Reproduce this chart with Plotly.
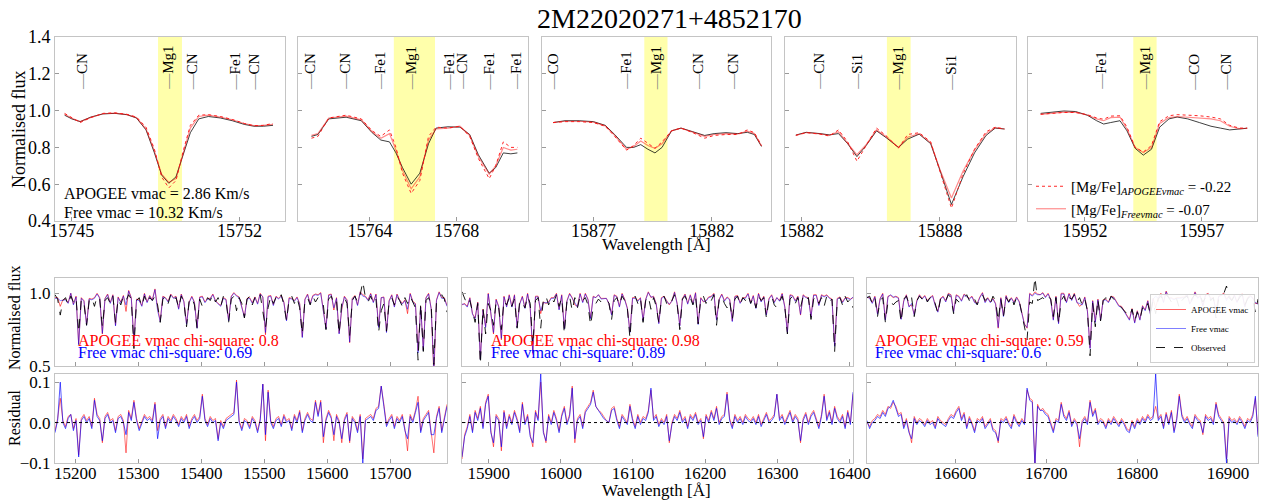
import numpy as np
import plotly.graph_objects as go

W, H = 1271, 504
FONT = "Liberation Serif"
FRAME = "#c4c4c4"
TICKC = "#9a9a9a"

# ---------------- data: top zoom panels ----------------
star_name = "2M22020271+4852170"
apogee_vmac = 2.86
free_vmac = 10.32
mgfe_apogee = -0.22
mgfe_free = -0.07

p1_wl = [15744.7, 15745.0, 15745.35, 15745.8, 15746.3, 15746.8, 15747.3, 15747.7, 15748.1, 15748.45, 15748.75,
         15749.05, 15749.35, 15749.65, 15749.95, 15750.3, 15750.7, 15751.2, 15751.7, 15752.2, 15752.6, 15753.0, 15753.4]
p1_obs = [0.975, 0.955, 0.94, 0.965, 0.982, 0.985, 0.978, 0.96, 0.895, 0.77, 0.65, 0.605, 0.64, 0.76, 0.88, 0.955,
          0.968, 0.96, 0.945, 0.925, 0.915, 0.915, 0.92]
p1_apogee = [0.985, 0.96, 0.935, 0.962, 0.985, 0.988, 0.98, 0.965, 0.91, 0.79, 0.64, 0.58, 0.62, 0.78, 0.92, 0.975,
             0.978, 0.968, 0.952, 0.93, 0.918, 0.92, 0.93]
p1_free = [0.98, 0.958, 0.94, 0.963, 0.983, 0.986, 0.978, 0.962, 0.9, 0.78, 0.655, 0.61, 0.63, 0.77, 0.905, 0.968,
           0.975, 0.965, 0.95, 0.93, 0.918, 0.92, 0.925]

p2_wl = [15761.3, 15761.6, 15762.1, 15762.9, 15763.6, 15764.1, 15764.5, 15764.9, 15765.2, 15765.5, 15765.9, 15766.3,
         15766.7, 15767.05, 15767.6, 15768.15, 15768.6, 15769.0, 15769.5, 15769.8, 15770.15, 15770.5, 15770.8]
p2_obs = [0.86, 0.87, 0.955, 0.964, 0.945, 0.88, 0.84, 0.83, 0.77, 0.69, 0.60, 0.66, 0.82, 0.905, 0.912, 0.91, 0.87,
          0.76, 0.66, 0.69, 0.77, 0.765, 0.77]
p2_apogee = [0.85, 0.86, 0.96, 0.975, 0.955, 0.89, 0.86, 0.895, 0.80, 0.66, 0.55, 0.62, 0.86, 0.91, 0.905, 0.915,
             0.86, 0.74, 0.63, 0.70, 0.83, 0.80, 0.80]
p2_free = [0.865, 0.875, 0.96, 0.97, 0.95, 0.885, 0.85, 0.875, 0.785, 0.675, 0.575, 0.64, 0.84, 0.90, 0.905, 0.915,
           0.865, 0.75, 0.655, 0.70, 0.80, 0.785, 0.79]

p3_wl = [15875.3, 15875.8, 15876.4, 15877.0, 15877.5, 15877.9, 15878.4, 15878.7, 15879.0, 15879.3, 15879.6, 15879.9,
         15880.3, 15880.7, 15881.2, 15881.7, 15882.1, 15882.6, 15883.1, 15883.5, 15883.8, 15884.1]
p3_obs = [0.935, 0.945, 0.945, 0.94, 0.92, 0.87, 0.80, 0.80, 0.815, 0.79, 0.77, 0.80, 0.89, 0.905, 0.885, 0.865,
          0.875, 0.88, 0.875, 0.882, 0.87, 0.805]
p3_apogee = [0.935, 0.94, 0.94, 0.935, 0.915, 0.86, 0.785, 0.81, 0.85, 0.82, 0.795, 0.83, 0.89, 0.905, 0.88, 0.85,
             0.865, 0.87, 0.87, 0.895, 0.88, 0.81]
p3_free = [0.935, 0.942, 0.942, 0.937, 0.917, 0.865, 0.79, 0.805, 0.835, 0.81, 0.795, 0.82, 0.89, 0.905, 0.883, 0.86,
           0.87, 0.875, 0.873, 0.888, 0.875, 0.808]

p4_wl = [15881.75, 15882.2, 15882.8, 15883.2, 15883.6, 15884.0, 15884.4, 15884.8, 15885.25, 15885.7, 15886.2,
         15886.6, 15887.1, 15887.6, 15888.0, 15888.5, 15889.0, 15889.5, 15890.0, 15890.4, 15890.8]
p4_obs = [0.867, 0.882, 0.875, 0.868, 0.875, 0.82, 0.75, 0.81, 0.89, 0.85, 0.80, 0.845, 0.872, 0.82, 0.676, 0.49,
          0.64, 0.77, 0.865, 0.905, 0.90]
p4_apogee = [0.865, 0.88, 0.872, 0.862, 0.895, 0.83, 0.725, 0.81, 0.905, 0.86, 0.795, 0.87, 0.88, 0.83, 0.67, 0.47,
             0.655, 0.79, 0.885, 0.91, 0.90]
p4_free = [0.866, 0.881, 0.874, 0.866, 0.885, 0.825, 0.76, 0.815, 0.895, 0.855, 0.80, 0.855, 0.875, 0.825, 0.68,
           0.525, 0.67, 0.785, 0.875, 0.907, 0.90]

p5_wl = [15950.1, 15950.6, 15951.1, 15951.6, 15952.1, 15952.5, 15952.8, 15953.1, 15953.5, 15953.8, 15954.15,
         15954.5, 15954.85, 15955.2, 15955.6, 15955.95, 15956.4, 15956.9, 15957.4, 15957.8, 15958.2, 15958.6, 15958.95]
p5_obs = [0.985, 0.993, 0.998, 0.995, 0.975, 0.945, 0.927, 0.935, 0.945, 0.89, 0.795, 0.758, 0.79, 0.91, 0.955,
          0.965, 0.955, 0.935, 0.915, 0.905, 0.895, 0.90, 0.904]
p5_apogee = [0.98, 0.985, 0.99, 0.99, 0.978, 0.96, 0.953, 0.97, 0.972, 0.91, 0.80, 0.775, 0.81, 0.94, 0.972, 0.978,
             0.977, 0.972, 0.965, 0.955, 0.92, 0.905, 0.905]
p5_free = [0.98, 0.987, 0.992, 0.99, 0.976, 0.955, 0.945, 0.962, 0.965, 0.9, 0.80, 0.772, 0.80, 0.93, 0.962, 0.968,
           0.965, 0.962, 0.955, 0.945, 0.915, 0.902, 0.904]

top_ranges = [[15744.3, 15753.9], [15760.68, 15771.29], [15874.83, 15884.5], [15881.28, 15891.3], [15949.56, 15959.37]]
top_xticks = [[15745, 15752], [15764, 15768], [15877, 15882], [15882, 15888], [15952, 15957]]
top_yticks = [0.4, 0.6, 0.8, 1.0, 1.2, 1.4]
mg_band_lo = [15748.6, 15765.1, 15879.15, 15885.7, 15954.07]
mg_band_hi = [15749.6, 15767.0, 15880.13, 15886.73, 15955.07]

p1_lines = ["CN", "Mg1", "CN", "Fe1", "CN"]
p1_line_wl = [15745.4, 15749.04, 15750.0, 15751.8, 15752.6]
p2_lines = ["CN", "CN", "Fe1", "Mg1", "Fe1", "CN", "Fe1", "Fe1"]
p2_line_wl = [15761.2, 15762.85, 15764.43, 15765.9, 15767.64, 15768.25, 15769.48, 15770.7]
p3_lines = ["CO", "Fe1", "Mg1", "CN", "CN"]
p3_line_wl = [15875.28, 15878.38, 15879.65, 15881.39, 15882.87]
p4_lines = ["CN", "Si1", "Mg1", "Si1"]
p4_line_wl = [15882.76, 15884.43, 15886.19, 15888.5]
p5_lines = ["Fe1", "Mg1", "CO", "CN"]
p5_line_wl = [15952.69, 15954.57, 15956.67, 15958.03]
label_flux = 1.1

# ---------------- data: full spectra (3 chips) ----------------
chip_ranges = [[15168, 15790], [15863, 16405], [16503, 16933]]
chip_xticks = [[15200, 15300, 15400, 15500, 15600, 15700],
               [15900, 16000, 16100, 16200, 16300, 16400],
               [16600, 16700, 16800, 16900]]
chi_apogee = [0.8, 0.98, 0.59]
chi_free = [0.69, 0.89, 0.6]

c1_obs = [0.99, 0.96, 0.85, 0.95, 0.97, 0.92, 0.98, 0.94, 0.97, 0.73,
          0.96, 0.93, 0.78, 0.95, 0.97, 0.91, 0.98, 0.96, 0.77, 0.95,
          0.97, 0.93, 0.98, 0.80, 0.96, 0.92, 0.98, 0.95, 0.99, 0.96,
          0.62, 0.95, 0.97, 0.91, 0.98, 0.93, 0.97, 0.95, 0.98, 0.92,
          0.80, 0.96, 0.98, 0.93, 0.99, 0.95, 0.97, 0.90, 0.98, 0.94,
          0.77, 0.95, 0.97, 0.92, 0.76, 0.96, 0.91, 0.93, 0.97, 0.95,
          0.99, 0.94, 0.97, 0.91, 0.98, 0.95, 0.80, 0.96, 0.98, 0.88,
          0.97, 0.93, 0.83, 0.96, 0.98, 0.92, 0.97, 0.95, 0.99, 0.88,
          0.76, 0.90, 0.98, 0.93, 0.97, 0.95, 0.99, 0.92, 0.81, 0.96,
          0.98, 0.93, 0.97, 0.90, 0.72, 0.95, 0.97, 0.92, 0.98, 0.94,
          0.97, 0.95, 0.92, 0.75, 0.96, 0.98, 0.93, 0.95, 0.72, 0.94,
          0.97, 0.93, 0.71, 0.95, 0.98, 0.94, 0.99, 1.08, 0.97, 0.94,
          0.98, 0.93, 0.96, 0.73, 0.88, 0.93, 0.74, 0.94, 0.97, 0.92,
          0.98, 0.95, 0.91, 0.97, 0.93, 0.98, 0.94, 0.90, 0.54, 0.93,
          0.60, 0.95, 0.97, 0.92, 0.51, 0.94, 0.97, 0.99, 0.96, 0.87]
c1_res_apogee = [-0.02, 0.01, 0.06, 0.005, -0.01, 0.015, 0.02, -0.015, 0.01, -0.08,
                 0.01, 0.02, 0.005, 0.015, -0.01, 0.06, 0.02, 0.01, -0.05, 0.015,
                 0.025, 0.005, 0.01, -0.02, 0.015, 0.02, 0.005, -0.075, 0.03, 0.01,
                 0.055, 0.01, -0.015, 0.005, 0.02, 0.01, 0.015, 0.005, 0.05, -0.02,
                 0.01, 0.02, -0.01, 0.015, 0.005, 0.02, 0.01, -0.005, 0.015, 0.005,
                 0.02, -0.01, 0.01, 0.02, 0.005, 0.015, 0.07, 0.01, -0.005, 0.015,
                 0.005, 0.01, -0.04, 0.005, -0.01, 0.01, 0.015, 0.02, 0.025, 0.105,
                 0.005, -0.015, 0.01, 0.005, -0.01, 0.015, 0.005, -0.02, 0.01, 0.095,
                 -0.045, 0.08, 0.005, -0.01, 0.01, 0.015, -0.005, 0.02, 0.005, 0.01,
                 -0.015, 0.02, 0.005, 0.03, -0.02, 0.01, 0.025, 0.01, 0.005, 0.055,
                 0.02, 0.055, -0.05, 0.01, 0.03, 0.015, -0.045, 0.02, 0.005, -0.05,
                 0.01, 0.025, -0.05, 0.015, 0.005, -0.02, 0.02, -0.09, 0.01, 0.015,
                 0.02, 0.01, 0.035, 0.04, 0.09, 0.045, -0.005, 0.01, 0.02, -0.01,
                 0.015, 0.005, 0.02, -0.015, -0.07, 0.02, 0.005, 0.03, 0.065, -0.02,
                 0.01, 0.02, 0.03, -0.025, -0.075, 0.015, 0.04, -0.02, 0.01, 0.045]
c1_res_free = [-0.025, 0.005, 0.10, 0.0, -0.015, 0.01, 0.02, -0.02, 0.005, -0.085,
               0.005, 0.015, 0.0, 0.01, -0.015, 0.055, 0.015, 0.005, -0.045, 0.01,
               0.02, 0.0, 0.005, -0.025, 0.01, 0.015, 0.0, -0.03, 0.025, 0.005,
               0.05, 0.005, -0.02, 0.0, 0.015, 0.005, 0.01, 0.0, 0.045, -0.04,
               0.005, 0.015, -0.015, 0.01, 0.0, 0.015, 0.005, -0.01, 0.01, 0.0,
               0.015, -0.015, 0.005, 0.015, 0.0, 0.01, 0.065, 0.005, -0.01, 0.01,
               0.0, 0.005, -0.045, 0.0, -0.015, 0.005, 0.01, 0.015, 0.02, 0.1,
               0.0, -0.02, 0.005, 0.0, -0.015, 0.01, 0.0, -0.025, 0.005, 0.095,
               -0.03, 0.075, 0.0, -0.015, 0.005, 0.01, -0.01, 0.015, 0.0, 0.005,
               -0.02, 0.015, 0.0, 0.025, -0.025, 0.005, 0.02, 0.005, 0.0, 0.05,
               0.015, 0.05, -0.035, 0.005, 0.025, 0.01, -0.03, 0.015, 0.0, -0.04,
               0.005, 0.02, -0.045, 0.01, 0.0, -0.025, 0.015, -0.1, 0.005, 0.01,
               0.015, 0.005, 0.03, 0.035, 0.09, 0.04, -0.01, 0.005, 0.015, -0.015,
               0.01, 0.0, 0.015, -0.02, -0.04, 0.015, 0.0, 0.025, 0.05, -0.025,
               0.005, 0.015, 0.025, -0.03, -0.03, 0.01, 0.035, -0.025, 0.005, 0.04]

c2_obs = [1.01, 0.96, 0.92, 0.95, 0.88, 0.80, 0.93, 0.51, 0.90, 0.72,
          0.93, 0.88, 0.78, 0.94, 0.90, 0.75, 0.95, 0.92, 0.97, 0.91,
          0.96, 0.76, 0.95, 0.93, 0.90, 0.98, 0.93, 0.64, 0.95, 0.97,
          0.76, 0.96, 0.98, 0.92, 0.97, 0.94, 0.99, 0.91, 0.97, 0.72,
          0.95, 0.98, 0.88, 0.97, 0.90, 0.98, 0.95, 0.97, 0.92, 0.78,
          0.90, 0.93, 0.96, 0.94, 0.95, 0.96, 0.93, 0.82, 0.95, 0.97,
          0.92, 0.98, 0.95, 0.90, 0.69, 0.96, 0.98, 0.93, 0.97, 0.80,
          0.95, 0.98, 0.89, 0.97, 0.91, 0.80, 0.96, 0.98, 0.93, 0.97,
          0.95, 0.99, 0.92, 0.75, 0.96, 0.98, 0.94, 0.97, 0.92, 0.98,
          0.79, 0.96, 0.98, 0.93, 0.97, 0.95, 0.99, 0.78, 0.96, 0.98,
          0.93, 0.90, 0.95, 0.82, 0.96, 0.98, 0.92, 0.97, 0.95, 0.99,
          0.93, 0.97, 0.90, 0.98, 0.95, 0.97, 0.83, 0.96, 0.98, 0.92,
          0.90, 0.94, 0.98, 0.91, 0.72, 0.96, 0.98, 0.93, 0.97, 0.90,
          0.98, 0.95, 0.97, 0.82, 0.96, 0.98, 0.93, 0.97, 0.91, 0.98,
          0.94, 0.96, 0.60, 0.95, 0.97, 0.92, 0.98, 0.94, 0.96, 0.90]
c2_res_apogee = [-0.09, -0.03, -0.01, 0.02, -0.02, 0.03, 0.01, 0.04, -0.01, 0.05,
                 0.07, -0.02, -0.06, 0.02, 0.01, -0.07, 0.03, -0.01, 0.02, 0.0,
                 0.03, 0.01, -0.02, 0.05, 0.0, 0.02, -0.03, -0.06, 0.03, 0.01,
                 0.10, -0.02, -0.05, 0.02, 0.0, 0.03, 0.01, -0.02, 0.02, 0.04,
                 0.0, 0.02, 0.09, -0.05, 0.01, 0.02, -0.01, 0.03, 0.04, 0.05,
                 0.08, 0.04, 0.03, 0.025, 0.015, 0.005, 0.0, 0.035, 0.04, 0.01,
                 -0.01, 0.02, 0.01, 0.0, 0.045, 0.01, -0.01, 0.02, 0.0, 0.015,
                 0.01, 0.03, 0.08, 0.01, 0.02, -0.005, 0.01, 0.0, 0.02, -0.05,
                 0.0, 0.02, 0.01, 0.03, 0.005, 0.015, -0.01, 0.02, 0.01, 0.025,
                 0.0, 0.01, -0.04, 0.02, 0.005, 0.03, 0.01, 0.04, 0.0, 0.015,
                 0.02, 0.075, 0.01, -0.01, 0.02, 0.005, 0.015, 0.0, 0.02, 0.01,
                 0.005, 0.015, 0.0, 0.02, -0.005, 0.01, 0.025, 0.005, 0.01, 0.02,
                 0.07, 0.01, 0.02, 0.0, 0.015, 0.03, 0.005, 0.02, 0.01, -0.05,
                 0.01, 0.025, 0.0, 0.02, 0.03, 0.01, -0.01, 0.02, 0.07, 0.01,
                 0.03, 0.0, 0.04, 0.015, 0.005, 0.02, -0.01, 0.03, 0.0, 0.07]
c2_res_free = [-0.085, -0.035, -0.015, 0.015, -0.025, 0.025, 0.005, 0.035, -0.015, 0.045,
               0.065, -0.025, -0.05, 0.015, 0.005, -0.06, 0.025, -0.015, 0.015, -0.005,
               0.025, 0.005, -0.025, 0.045, -0.005, 0.015, -0.035, -0.05, 0.025, 0.005,
               0.12, -0.025, -0.045, 0.015, -0.005, 0.025, 0.005, -0.025, 0.015, 0.035,
               -0.005, 0.015, 0.085, -0.04, 0.005, 0.015, -0.015, 0.025, 0.035, 0.045,
               0.075, 0.04, 0.03, 0.02, 0.01, 0.005, 0.0, 0.03, 0.035, 0.005,
               -0.015, 0.015, 0.005, -0.005, 0.04, 0.005, -0.015, 0.015, -0.005, 0.01,
               0.005, 0.025, 0.085, 0.005, 0.015, -0.01, 0.005, -0.005, 0.015, -0.045,
               -0.005, 0.015, 0.005, 0.025, 0.0, 0.01, -0.015, 0.015, 0.005, 0.02,
               -0.005, 0.005, -0.035, 0.015, 0.0, 0.025, 0.005, 0.035, -0.005, 0.01,
               0.015, 0.07, 0.005, -0.015, 0.015, 0.0, 0.01, -0.005, 0.015, 0.005,
               0.0, 0.01, -0.005, 0.015, -0.01, 0.005, 0.02, 0.0, 0.005, 0.015,
               0.07, 0.005, 0.015, -0.005, 0.01, 0.025, 0.0, 0.015, 0.005, -0.045,
               0.005, 0.02, -0.005, 0.015, 0.025, 0.005, -0.015, 0.015, 0.065, 0.005,
               0.025, -0.005, 0.035, 0.01, 0.0, 0.015, -0.015, 0.025, -0.005, 0.075]

c3_obs = [0.97, 0.98, 0.93, 0.97, 0.84, 0.95, 0.97, 0.80, 0.94, 0.95,
          0.92, 0.94, 0.95, 0.80, 0.96, 0.98, 0.93, 0.97, 0.84, 0.95,
          0.98, 0.96, 0.99, 0.94, 0.97, 0.98, 0.93, 0.86, 0.96, 0.98,
          0.95, 0.99, 0.97, 0.86, 0.96, 0.94, 0.94, 0.97, 0.99, 0.95,
          0.98, 0.96, 0.92, 0.97, 0.99, 0.95, 0.97, 0.93, 0.98, 0.95,
          0.81, 0.96, 0.84, 0.97, 0.94, 0.98, 0.92, 0.97, 0.95, 0.86,
          0.79, 0.68, 0.94, 0.93, 1.11, 0.95, 0.96, 0.97, 0.95, 0.98,
          0.96, 0.84, 0.97, 0.79, 0.95, 0.98, 0.93, 0.97, 0.96, 0.99,
          0.94, 0.97, 0.92, 0.96, 0.88, 0.57, 0.93, 0.77, 0.96, 0.81,
          0.95, 0.97, 0.93, 0.98, 0.96, 0.94, 0.92, 0.90, 0.88, 0.86,
          0.84, 0.89, 0.81, 0.87, 0.82, 0.90, 0.88, 0.93, 0.85, 0.95,
          0.86, 0.96, 0.98, 0.95, 0.99, 0.97, 0.94, 0.98, 0.96, 0.90,
          0.95, 0.97, 0.98, 0.93, 0.97, 0.99, 0.96, 0.98, 0.94, 0.97,
          0.99, 0.95, 0.97, 0.83, 0.96, 0.98, 1.00, 1.05, 0.97, 0.95,
          0.98, 0.94, 0.97, 0.99, 0.92, 0.96, 0.98, 0.95, 0.87, 0.96]
c3_res_apogee = [0.0, -0.01, 0.005, 0.01, 0.02, 0.015, 0.03, 0.02, 0.04, 0.035,
                 0.05, 0.04, 0.02, 0.025, -0.01, 0.01, -0.02, -0.05, 0.015, 0.0,
                 0.01, 0.005, -0.005, 0.01, 0.0, 0.005, -0.01, 0.015, 0.005, 0.0,
                 -0.005, 0.01, 0.02, 0.015, 0.03, 0.04, 0.01, 0.025, -0.01, 0.015,
                 0.0, -0.02, 0.01, 0.005, 0.015, -0.01, 0.0, 0.01, -0.015, -0.02,
                 -0.05, 0.01, 0.005, 0.015, 0.0, -0.01, 0.02, 0.005, -0.005, 0.01,
                 0.0, 0.08, 0.06, 0.055, -0.1, 0.045, 0.03, 0.035, 0.025, 0.02,
                 0.0, -0.02, 0.01, 0.005, 0.05, 0.02, 0.01, 0.03, -0.005, 0.01,
                 0.0, -0.06, 0.005, 0.015, 0.0, 0.055, 0.02, 0.035, 0.0, 0.01,
                 0.005, -0.01, 0.01, 0.0, 0.015, 0.005, -0.005, 0.01, 0.0, -0.015,
                 -0.02, 0.005, -0.01, 0.01, 0.0, 0.015, 0.005, 0.02, 0.01, 0.015,
                 0.04, 0.01, 0.02, -0.01, 0.025, 0.0, 0.03, -0.02, 0.01, 0.07,
                 0.02, 0.005, 0.015, 0.0, -0.01, 0.02, 0.01, 0.005, -0.03, 0.02,
                 0.01, 0.015, 0.0, 0.05, 0.02, 0.01, 0.0, -0.09, 0.015, 0.005,
                 0.01, 0.0, 0.015, 0.005, -0.01, 0.01, 0.005, 0.02, 0.06, -0.03]
c3_res_free = [0.005, -0.015, 0.0, 0.005, 0.015, 0.01, 0.025, 0.015, 0.035, 0.04,
               0.055, 0.035, 0.015, 0.02, -0.015, 0.005, -0.025, -0.04, 0.01, -0.005,
               0.005, 0.0, -0.01, 0.005, -0.005, 0.0, -0.015, 0.01, 0.0, -0.005,
               -0.01, 0.005, 0.015, 0.01, 0.025, 0.035, 0.005, 0.02, -0.015, 0.01,
               -0.005, -0.025, 0.005, 0.0, 0.01, -0.015, -0.005, 0.005, -0.02, -0.025,
               -0.045, 0.005, 0.0, 0.01, -0.005, -0.015, 0.015, 0.0, -0.01, 0.005,
               -0.005, 0.085, 0.055, 0.05, -0.11, 0.04, 0.03, 0.03, 0.02, 0.015,
               -0.005, -0.025, 0.005, 0.0, 0.045, 0.015, 0.005, 0.025, -0.01, 0.005,
               -0.005, -0.04, 0.0, 0.01, -0.005, 0.05, 0.015, 0.03, -0.005, 0.005,
               0.0, -0.015, 0.005, -0.005, 0.01, 0.0, -0.01, 0.005, -0.005, -0.02,
               -0.025, 0.0, -0.015, 0.005, -0.005, 0.01, 0.0, 0.015, 0.005, 0.01,
               0.12, 0.005, 0.015, -0.015, 0.02, -0.005, 0.025, -0.025, 0.005, 0.065,
               0.015, 0.0, 0.01, -0.005, -0.015, 0.015, 0.005, 0.0, -0.025, 0.015,
               0.005, 0.01, -0.005, 0.045, 0.015, 0.005, -0.005, -0.1, 0.01, 0.0,
               0.005, -0.005, 0.01, 0.0, -0.015, 0.005, 0.0, 0.015, 0.065, -0.035]

# ---------------- layout geometry (pixels) ----------------
top_x_px = [(55, 285), (298, 528), (542, 771), (785, 1016), (1028, 1257)]
top_y_px = (37, 221)
chip_x_px = [(55, 447), (462, 853), (867, 1258)]
spec_y_px = (278, 366)
res_y_px = (374, 463)


def fx(p):
    return p / W


def fy(p):
    return 1 - p / H


def sfx(k):
    return "" if k == 1 else str(k)


fig = go.Figure()
layout = {}
shapes = []
annotations = []


def base_axis(tick_size):
    return dict(showline=True, mirror=True, linecolor=FRAME, linewidth=1, ticks="inside", ticklen=4,
                tickcolor=TICKC, tickwidth=1, showgrid=False, zeroline=False, automargin=False,
                tickfont=dict(family=FONT, size=tick_size, color="black"))


def make_axes(k, xpx, ypx, xr, yr, xt, yt, ytt, show_xl, show_yl, tsize, xstand):
    s = sfx(k)
    xa = base_axis(tsize)
    xa.update(domain=[fx(xpx[0]), fx(xpx[1])], range=xr, anchor="y" + s, tickvals=xt,
              ticktext=[str(v) for v in xt], showticklabels=show_xl, ticklabelstandoff=xstand)
    ya = base_axis(tsize)
    ya.update(domain=[fy(ypx[1]), fy(ypx[0])], range=yr, anchor="x" + s, tickvals=yt,
              ticktext=ytt, showticklabels=show_yl)
    layout["xaxis" + s] = xa
    layout["yaxis" + s] = ya


# ---------------- top panels ----------------
top_data = [(p1_wl, p1_obs, p1_apogee, p1_free, p1_lines, p1_line_wl),
            (p2_wl, p2_obs, p2_apogee, p2_free, p2_lines, p2_line_wl),
            (p3_wl, p3_obs, p3_apogee, p3_free, p3_lines, p3_line_wl),
            (p4_wl, p4_obs, p4_apogee, p4_free, p4_lines, p4_line_wl),
            (p5_wl, p5_obs, p5_apogee, p5_free, p5_lines, p5_line_wl)]

for i, (wl, obs, apo, fre, names, lwl) in enumerate(top_data):
    k = i + 1
    s = sfx(k)
    make_axes(k, top_x_px[i], top_y_px, top_ranges[i], [0.4, 1.4], top_xticks[i], top_yticks,
              ["%.1f" % v for v in top_yticks], True, i == 0, 18, -7)
    shapes.append(dict(type="rect", xref="x" + s, yref="y" + s + " domain", x0=mg_band_lo[i], x1=mg_band_hi[i],
                       y0=0, y1=1, fillcolor="rgba(255,255,0,0.33)", line=dict(width=0), layer="below"))
    last = (i == 4)
    fig.add_trace(go.Scatter(x=wl, y=obs, mode="lines", line=dict(color="rgba(0,0,0,0.75)", width=1),
                             xaxis="x" + s, yaxis="y" + s, showlegend=False, hoverinfo="skip"))
    fig.add_trace(go.Scatter(x=wl, y=apo, mode="lines", line=dict(color="rgb(255,40,40)", width=1, dash="dot"),
                             xaxis="x" + s, yaxis="y" + s, showlegend=last, legend="legend",
                             name="[Mg/Fe]<sub><i>APOGEEvmac</i></sub> = %.2f" % mgfe_apogee, hoverinfo="skip"))
    fig.add_trace(go.Scatter(x=wl, y=fre, mode="lines", line=dict(color="rgba(255,0,0,0.45)", width=1.2),
                             xaxis="x" + s, yaxis="y" + s, showlegend=last, legend="legend",
                             name="[Mg/Fe]<sub><i>Freevmac</i></sub> = %.2f" % mgfe_free, hoverinfo="skip"))
    for nm, w in zip(names, lwl):
        annotations.append(dict(x=w, y=label_flux, xref="x" + s, yref="y" + s, textangle=-90,
                                text="<span style='color:#808080'>—</span>" + nm, showarrow=False,
                                xanchor="center", yanchor="bottom",
                                font=dict(family=FONT, size=15, color="black")))

# ---------------- bottom panels ----------------
chip_data = [(c1_obs, c1_res_apogee, c1_res_free), (c2_obs, c2_res_apogee, c2_res_free),
             (c3_obs, c3_res_apogee, c3_res_free)]
for j, (obs, ra, rf) in enumerate(chip_data):
    ks = 6 + j
    kr = 9 + j
    ss, sr = sfx(ks), sfx(kr)
    wl = np.linspace(chip_ranges[j][0], chip_ranges[j][1], len(obs))
    obs_a = np.array(obs)
    mod_apogee = obs_a + np.array(ra)
    mod_free = obs_a + np.array(rf)
    make_axes(ks, chip_x_px[j], spec_y_px, chip_ranges[j], [0.5, 1.105], chip_xticks[j], [0.5, 1.0],
              ["0.5", "1.0"], False, j == 0, 17, 0)
    make_axes(kr, chip_x_px[j], res_y_px, chip_ranges[j], [-0.1, 0.12], chip_xticks[j], [-0.1, 0.0, 0.1],
              ["\u22120.1", "0.0", "0.1"], True, j == 0, 17, -5)
    last = (j == 2)
    fig.add_trace(go.Scatter(x=wl, y=mod_apogee, mode="lines", line=dict(color="rgba(255,0,0,0.6)", width=1),
                             xaxis="x" + ss, yaxis="y" + ss, showlegend=last, legend="legend2",
                             name="APOGEE vmac", hoverinfo="skip"))
    fig.add_trace(go.Scatter(x=wl, y=mod_free, mode="lines", line=dict(color="rgba(0,0,255,0.5)", width=1),
                             xaxis="x" + ss, yaxis="y" + ss, showlegend=last, legend="legend2",
                             name="Free vmac", hoverinfo="skip"))
    fig.add_trace(go.Scatter(x=wl, y=obs, mode="lines", line=dict(color="black", width=0.9, dash="dash"),
                             xaxis="x" + ss, yaxis="y" + ss, showlegend=last, legend="legend2",
                             name="Observed", hoverinfo="skip"))
    fig.add_trace(go.Scatter(x=wl, y=ra, mode="lines", line=dict(color="rgba(255,0,0,0.55)", width=1),
                             xaxis="x" + sr, yaxis="y" + sr, showlegend=False, hoverinfo="skip"))
    fig.add_trace(go.Scatter(x=wl, y=rf, mode="lines", line=dict(color="rgba(0,0,255,0.65)", width=1),
                             xaxis="x" + sr, yaxis="y" + sr, showlegend=False, hoverinfo="skip"))
    shapes.append(dict(type="line", xref="x" + sr + " domain", yref="y" + sr, x0=0, x1=1, y0=0, y1=0,
                       line=dict(color="black", width=1, dash="dot"), layer="above"))
    x_text = chip_x_px[j][0] + (21 if j == 0 else (27 if j == 1 else 6))
    annotations.append(dict(x=fx(x_text), y=fy(341), xref="paper", yref="paper", showarrow=False,
                            xanchor="left", yanchor="middle", text="APOGEE vmac chi-square: %s" % chi_apogee[j],
                            font=dict(family=FONT, size=16, color="red")))
    annotations.append(dict(x=fx(x_text), y=fy(353), xref="paper", yref="paper", showarrow=False,
                            xanchor="left", yanchor="middle", text="Free vmac chi-square: %s" % chi_free[j],
                            font=dict(family=FONT, size=16, color="blue")))


# ---------------- texts ----------------
def paper_text(x, y, text, size, angle=0, xa="center", ya="middle", color="black"):
    annotations.append(dict(x=fx(x), y=fy(y), xref="paper", yref="paper", text=text, showarrow=False,
                            textangle=angle, xanchor=xa, yanchor=ya,
                            font=dict(family=FONT, size=size, color=color)))


paper_text(669, 19, star_name, 28)
paper_text(19, 130, "Normalised flux", 18, angle=-90)
paper_text(656, 244, "Wavelength [Å]", 17)
paper_text(62, 193, "APOGEE vmac = %.2f Km/s" % apogee_vmac, 16, xa="left")
paper_text(62, 212, "Free vmac = %.2f Km/s" % free_vmac, 16, xa="left")
paper_text(14, 318, "Normalised flux", 16, angle=-90)
paper_text(14, 418, "Residual", 16, angle=-90)
paper_text(656, 490, "Wavelength [Å]", 17)

fig.update_layout(
    width=W, height=H, autosize=False,
    margin=dict(l=0, r=0, t=0, b=0, pad=0, autoexpand=False),
    paper_bgcolor="white", plot_bgcolor="white",
    shapes=shapes, annotations=annotations,
    legend=dict(x=fx(1031), y=fy(170), xanchor="left", yanchor="top", bgcolor="rgba(0,0,0,0)",
                borderwidth=0, font=dict(family=FONT, size=15, color="black"), tracegroupgap=0),
    legend2=dict(x=fx(1255), y=fy(363), xanchor="right", yanchor="bottom", bgcolor="rgba(255,255,255,0.92)",
                 bordercolor="#d0d0d0", borderwidth=1, font=dict(family=FONT, size=9, color="black"),
                 tracegroupgap=0),
    **layout
)

fig.write_html("out.html", config={"responsive": False})
